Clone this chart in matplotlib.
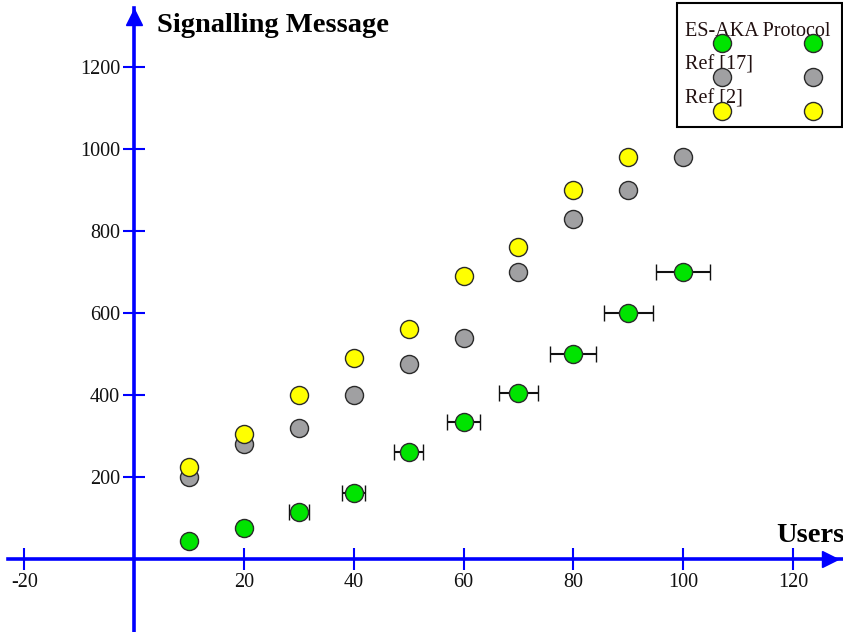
import matplotlib.pyplot as plt
from matplotlib.patches import Rectangle

plt.rcParams['font.family'] = ['Liberation Serif', 'DejaVu Serif']
plt.rcParams['axes.unicode_minus'] = False

# data
users = [10, 20, 30, 40, 50, 60, 70, 80, 90, 100]
esaka = [45, 75, 115, 160, 260, 335, 405, 500, 600, 700]
esaka_err = [0.6, 0.9, 1.8, 2.1, 2.7, 3.0, 3.5, 4.2, 4.5, 4.9]
ref17 = [200, 280, 320, 400, 475, 540, 700, 830, 900, 980]
ref2_users = [10, 20, 30, 40, 50, 60, 70, 80, 90]
ref2 = [225, 305, 400, 490, 560, 690, 760, 900, 980]

x_ticks = [-20, 20, 40, 60, 80, 100, 120]
y_ticks = [200, 400, 600, 800, 1000, 1200]
legend_labels = ['ES-AKA Protocol', 'Ref [17]', 'Ref [2]']

green = '#00e400'
gray = '#a0a0a2'
yellow = '#ffff00'
edge = '#2a2a2a'
blue = '#0000ff'

fig = plt.figure(figsize=(8.43, 6.32), dpi=100)
ax = fig.add_axes([8 / 843, 0, 1 - 8 / 843, 1 - 8 / 632])
ax.set_xlim(-22.95, 129.1)
ax.set_ylim(-178, 1344)

# axes through the origin
for s in ['top', 'right']:
    ax.spines[s].set_visible(False)
ax.spines['left'].set_position(('data', 0))
ax.spines['bottom'].set_position(('data', 0))
ax.spines['left'].set_color(blue)
ax.spines['bottom'].set_color(blue)
ax.spines['left'].set_linewidth(2.6)
ax.spines['bottom'].set_linewidth(2.6)
ax.plot(0.985, 0, '>', color=blue, markersize=11, transform=ax.get_yaxis_transform(), clip_on=False)
ax.plot(0, 0.985, '^', color=blue, markersize=11, transform=ax.get_xaxis_transform(), clip_on=False)

ax.set_xticks(x_ticks)
ax.set_yticks(y_ticks)
ax.tick_params(direction='inout', length=16, width=1.5, color=blue,
               labelsize=14.5, labelcolor='#111111', pad=2)

ms = 13
ax.plot(users, ref17, 'o', color=gray, markersize=ms, markeredgecolor=edge, markeredgewidth=1, zorder=3)
ax.plot(ref2_users, ref2, 'o', color=yellow, markersize=ms, markeredgecolor=edge, markeredgewidth=1, zorder=4)
ax.errorbar(users, esaka, xerr=esaka_err, fmt='o', color=green, markersize=ms,
            markeredgecolor=edge, markeredgewidth=1, ecolor='#111111', elinewidth=1.5,
            capsize=5.5, capthick=1.5, zorder=5)

ax.text(4.2, 1302, 'Signalling Message', fontsize=20.5, fontweight='bold', va='center', ha='left')
ax.text(129.3, 58, 'Users', fontsize=20.5, fontweight='bold', va='center', ha='right')

# legend box
fig.patches.append(Rectangle((677 / 843, 1 - 127 / 632), 165 / 843, 124 / 632,
                             transform=fig.transFigure, facecolor='white',
                             edgecolor='black', linewidth=1.5, zorder=10))
colors = [green, gray, yellow]
for i, (lab, c) in enumerate(zip(legend_labels, colors)):
    ty = 1 - (31 + 34 * i) / 632
    my = 1 - (43 + 34 * i) / 632
    fig.text(685 / 843, ty, lab, fontsize=14.5, color='#221111', va='center', ha='left', zorder=11)
    for mx in [722, 813]:
        fig.lines.append(plt.Line2D([mx / 843], [my], marker='o', color=c, markersize=ms,
                                    markeredgecolor=edge, markeredgewidth=1,
                                    transform=fig.transFigure, zorder=12))

fig.savefig('out.png', dpi=100)
